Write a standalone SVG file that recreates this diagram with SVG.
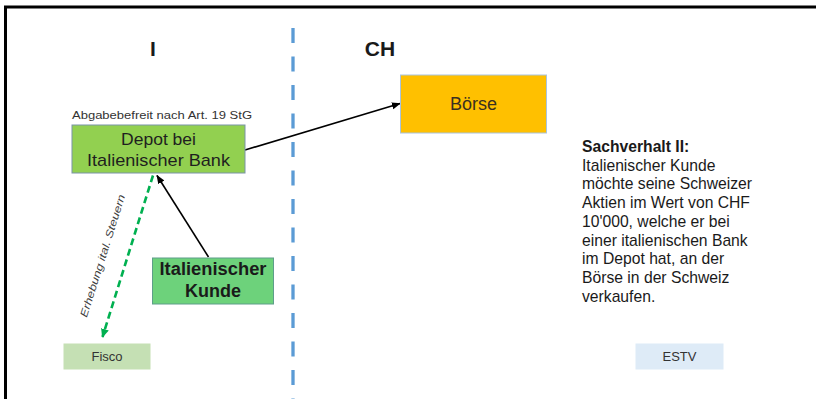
<svg xmlns="http://www.w3.org/2000/svg" width="816" height="399" viewBox="0 0 816 399">
  <defs>
    <style>
      .sans { font-family: "Liberation Sans", Arial, sans-serif; }
      .cal { font-family: "Liberation Sans", "Open Sans", sans-serif; }
      .head { font-size: 21px; font-weight: bold; fill: #1a1a1a; }
      .node { font-size: 17px; fill: #1f1f1f; }
      .small { font-size: 11px; fill: #333; }
      .story { font-size: 15.7px; fill: #1a1a1a; }
    </style>
    <marker id="ah" viewBox="0 0 10 10" refX="9" refY="5" markerWidth="9" markerHeight="9" markerUnits="userSpaceOnUse" orient="auto">
      <path d="M0,1 L10,5 L0,9 Z" fill="#000"/>
    </marker>
    <marker id="ahg" viewBox="0 0 10 10" refX="9" refY="5" markerWidth="9" markerHeight="9" markerUnits="userSpaceOnUse" orient="auto">
      <path d="M0,0.5 L10,5 L0,9.5 Z" fill="#00B050"/>
    </marker>
  </defs>
  <rect width="816" height="399" fill="#fff"/>
  <!-- frame -->
  <path d="M5.5,399 V7 H816" fill="none" stroke="#000" stroke-width="3"/>

  <!-- headers -->
  <text class="sans head" x="153" y="56" text-anchor="middle">I</text>
  <text class="sans head" x="380" y="56" text-anchor="middle">CH</text>

  <!-- border line -->
  <line x1="293" y1="28" x2="293" y2="399" stroke="#5B9BD5" stroke-width="3.3" stroke-dasharray="15 13.5"/>

  <!-- connectors -->
  <g id="connectors">
    <line x1="245" y1="150" x2="400" y2="103.5" stroke="#000" stroke-width="1.6" marker-end="url(#ah)"/>
    <line x1="208.5" y1="257" x2="157" y2="175.5" stroke="#000" stroke-width="1.6" marker-end="url(#ah)"/>
    <line x1="153" y1="175.5" x2="102.5" y2="337" stroke="#00B050" stroke-width="2.6" stroke-dasharray="7 4" marker-end="url(#ahg)"/>
    <text class="sans" font-size="10.5" font-style="italic" fill="#404040" text-anchor="middle" transform="translate(106,257) rotate(-72.5)" textLength="128" lengthAdjust="spacingAndGlyphs">Erhebung ital. Steuern</text>
  </g>

  <!-- Depot -->
  <g id="depot">
    <text class="cal small" x="72" y="119" textLength="180" lengthAdjust="spacingAndGlyphs">Abgabebefreit  nach Art. 19 StG</text>
    <rect x="72" y="125" width="173" height="48" fill="#92D050" stroke="#7A93A8" stroke-width="1"/>
    <text class="sans node" x="158.5" y="145" text-anchor="middle" textLength="75" lengthAdjust="spacingAndGlyphs">Depot bei</text>
    <text class="sans node" x="158.5" y="165.5" text-anchor="middle" textLength="143" lengthAdjust="spacingAndGlyphs">Italienischer Bank</text>
  </g>

  <!-- Börse -->
  <g id="boerse">
    <rect x="400.5" y="75" width="146" height="58" fill="#FFC000" stroke="#A9C4DE" stroke-width="1"/>
    <text class="sans" font-size="18" fill="#3a3020" x="473.5" y="110" text-anchor="middle">Börse</text>
  </g>

  <!-- Kunde -->
  <g id="kunde">
    <rect x="152.5" y="258" width="121" height="46" fill="#6DD27B" stroke="#5E9E8A" stroke-width="1"/>
    <text class="sans" font-size="18" font-weight="bold" fill="#1a1a1a" x="213" y="275" text-anchor="middle" textLength="107" lengthAdjust="spacingAndGlyphs">Italienischer</text>
    <text class="sans" font-size="18" font-weight="bold" fill="#1a1a1a" x="213" y="297" text-anchor="middle">Kunde</text>
  </g>

  <!-- Fisco -->
  <g id="fisco">
    <rect x="63.5" y="343.5" width="87" height="26" fill="#C5E0B4"/>
    <text class="cal" font-size="13" fill="#333" x="107" y="361" text-anchor="middle">Fisco</text>
  </g>

  <!-- ESTV -->
  <g id="estv">
    <rect x="635.5" y="343.5" width="88" height="26" fill="#DEEBF7"/>
    <text class="cal" font-size="13" fill="#333" x="679.5" y="361" text-anchor="middle">ESTV</text>
  </g>

  <!-- Sachverhalt -->
  <g id="sachverhalt">
    <text class="sans story" x="582" y="152" font-weight="bold">Sachverhalt II:</text>
    <text class="sans story" x="582" y="170.7">Italienischer Kunde</text>
    <text class="sans story" x="582" y="189.4">möchte seine Schweizer</text>
    <text class="sans story" x="582" y="208.1">Aktien im Wert von CHF</text>
    <text class="sans story" x="582" y="226.8">10'000, welche er bei</text>
    <text class="sans story" x="582" y="245.5">einer italienischen Bank</text>
    <text class="sans story" x="582" y="264.2">im Depot hat, an der</text>
    <text class="sans story" x="582" y="282.9">Börse in der Schweiz</text>
    <text class="sans story" x="582" y="301.6">verkaufen.</text>
  </g>
</svg>
